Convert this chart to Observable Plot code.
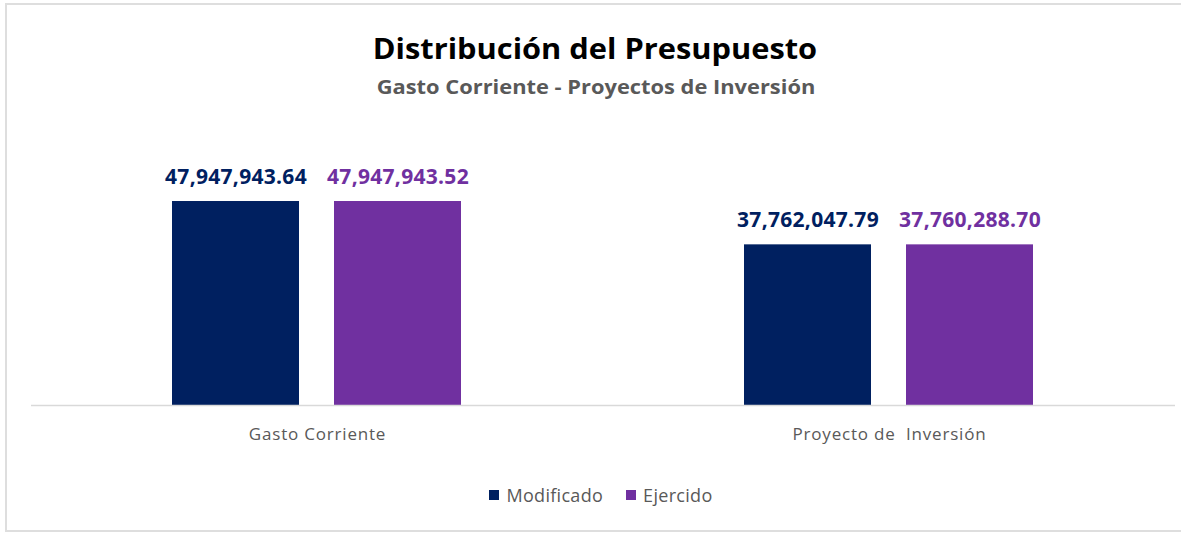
<!DOCTYPE html>
<html>
<head>
<meta charset="utf-8">
<script src="https://cdn.jsdelivr.net/npm/d3@7"></script>
<script src="https://cdn.jsdelivr.net/npm/@observablehq/plot@0.6"></script>
<style>
  html, body { margin: 0; padding: 0; background: #fff; width: 1181px; height: 533px; overflow: hidden; position: relative; font-family: "Open Sans", sans-serif; }
  #frame { position: absolute; left: 5px; top: 3px; width: 1200px; height: 525px; border: 2px solid #dedede; border-right: none; }
  #title { position: absolute; left: 0; width: 1190px; top: 34px; text-align: center; font-size: 28px; line-height: 28px; font-weight: 700; color: #000; transform: scaleX(1.1); transform-origin: 595px 0; }
  #subtitle { position: absolute; left: 0; width: 1192px; top: 78px; text-align: center; font-size: 19px; line-height: 19px; font-weight: 700; color: #595959; transform: scaleX(1.15); transform-origin: 596px 0; }
  #chart { position: absolute; left: 0; top: 110px; }
  #chart svg text { white-space: pre; }
  #chart g[aria-label="text"] text { letter-spacing: 0.3px; }
  #chart g[aria-label="fx-axis tick label"] text { letter-spacing: 0.8px; }
  #legend { position: absolute; left: 0; width: 1202px; top: 486px; display: flex; justify-content: center; align-items: center; font-size: 18px; line-height: 18px; letter-spacing: 0.3px; color: #595959; }
  .item { display: flex; align-items: center; margin: 0 11.5px; }
  .sw { width: 10px; height: 10px; margin-right: 7px; }
</style>
</head>
<body>
<div id="frame"></div>
<div id="title">Distribución del Presupuesto</div>
<div id="subtitle">Gasto Corriente - Proyectos de Inversión</div>
<div id="chart"></div>
<div id="legend"></div>
<script>
const categories = ["Gasto Corriente", "Proyecto de  Inversión"];
const series = ["Modificado", "Ejercido"];
const modificado = [47947943.64, 37762047.79];
const ejercido = [47947943.52, 37760288.70];
const colors = ["#002060", "#7030A0"];

const data = [];
categories.forEach((c, i) => {
  data.push({category: c, series: series[0], value: modificado[i]});
  data.push({category: c, series: series[1], value: ejercido[i]});
});
const fmt = d3.format(",.2f");

const chart = Plot.plot({
  width: 1181,
  height: 345,
  marginLeft: 30,
  marginRight: 6,
  marginTop: 0,
  marginBottom: 50,
  style: {fontFamily: "Open Sans", background: "transparent"},
  fx: {domain: categories, padding: 0, label: null},
  x: {domain: series, paddingInner: 0.215, paddingOuter: 0.8675, axis: null},
  y: {domain: [0, 69.34e6], axis: null},
  color: {domain: series, range: colors},
  marks: [
    Plot.axisFx({anchor: "bottom", tickSize: 0, tickPadding: 22, fill: "#595959", fontSize: 17, label: null}),
    Plot.barY(data, {fx: "category", x: "series", y: "value", fill: "series"}),
    Plot.ruleY([0], {stroke: "#d9d9d9", strokeWidth: 1.5}),
    Plot.text(data, {fx: "category", x: "series", y: "value", text: d => fmt(d.value), fill: "series",
      fontWeight: "bold", fontSize: 21, lineAnchor: "bottom", dy: -18})
  ]
});
document.getElementById("chart").appendChild(chart);

const legend = document.getElementById("legend");
series.forEach((s, i) => {
  const item = document.createElement("div");
  item.className = "item";
  const sw = document.createElement("span");
  sw.className = "sw";
  sw.style.background = colors[i];
  const lab = document.createElement("span");
  lab.textContent = s;
  item.appendChild(sw);
  item.appendChild(lab);
  legend.appendChild(item);
});
</script>
</body>
</html>
